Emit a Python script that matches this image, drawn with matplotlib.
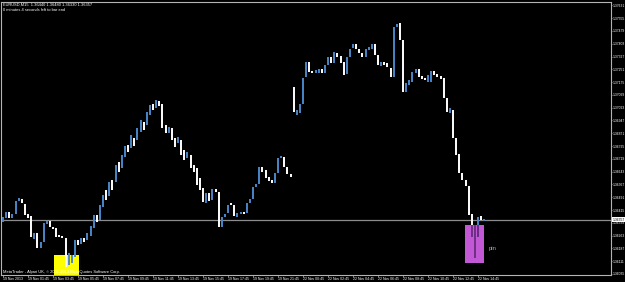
import matplotlib
matplotlib.use('Agg')
import matplotlib.pyplot as plt
from matplotlib.patches import Rectangle

plt.rcParams['font.family'] = ['Liberation Sans', 'DejaVu Sans']

symbol_info = "EURUSD,M15  1.36440 1.36480 1.36330 1.36357"
timer_info = "0 minutes 4 seconds left to bar end"
credits = "MetaTrader - Alpari UK, \u00a9 2001-2013 MetaQuotes Software Corp."
note_text = "pin"

bar_high = [
    1.36374, 1.36403, 1.36403, 1.36391, 1.36469, 1.36486, 1.36481, 1.36451, 1.36391, 1.36380,
    1.36279, 1.36279, 1.36225, 1.36338, 1.36350, 1.36350, 1.36314, 1.36308, 1.36267, 1.36261,
    1.36249, 1.36160, 1.36148, 1.36237, 1.36237, 1.36249, 1.36249, 1.36279, 1.36320, 1.36385,
    1.36385, 1.36445, 1.36504, 1.36534, 1.36581, 1.36593, 1.36682, 1.36700, 1.36742, 1.36795,
    1.36801, 1.36861, 1.36843, 1.36902, 1.36950, 1.36938, 1.36997, 1.37039, 1.37045, 1.37069,
    1.37063, 1.37045, 1.36920, 1.36908, 1.36902, 1.36843, 1.36849, 1.36831, 1.36772, 1.36760,
    1.36742, 1.36682, 1.36665, 1.36605, 1.36546, 1.36516, 1.36516, 1.36540, 1.36540, 1.36522,
    1.36374, 1.36391, 1.36445, 1.36457, 1.36445, 1.36397, 1.36403, 1.36403, 1.36457, 1.36481,
    1.36552, 1.36570, 1.36671, 1.36671, 1.36653, 1.36611, 1.36593, 1.36635, 1.36724, 1.36736,
    1.36730, 1.36671, 1.36629, 1.37146, 1.37009, 1.37045, 1.37199, 1.37294, 1.37294, 1.37241,
    1.37247, 1.37253, 1.37253, 1.37276, 1.37324, 1.37324, 1.37354, 1.37348, 1.37330, 1.37294,
    1.37324, 1.37372, 1.37401, 1.37401, 1.37372, 1.37348, 1.37372, 1.37383, 1.37401, 1.37401,
    1.37336, 1.37294, 1.37294, 1.37288, 1.37259, 1.37502, 1.37520, 1.37526, 1.37425, 1.37170,
    1.37187, 1.37235, 1.37253, 1.37253, 1.37211, 1.37199, 1.37217, 1.37241, 1.37241, 1.37223,
    1.37211, 1.37199, 1.37080, 1.37021, 1.37009, 1.36843, 1.36748, 1.36635, 1.36593, 1.36558,
    1.36391, 1.36326, 1.36374, 1.36380, 1.36362,
]
bar_low = [
    1.36344, 1.36368, 1.36368, 1.36368, 1.36391, 1.36469, 1.36457, 1.36385, 1.36368, 1.36255,
    1.36243, 1.36189, 1.36189, 1.36225, 1.36332, 1.36314, 1.36302, 1.36255, 1.36255, 1.36249,
    1.36077, 1.36088, 1.36100, 1.36136, 1.36207, 1.36213, 1.36225, 1.36237, 1.36261, 1.36308,
    1.36344, 1.36356, 1.36433, 1.36475, 1.36498, 1.36534, 1.36581, 1.36641, 1.36665, 1.36730,
    1.36760, 1.36783, 1.36795, 1.36831, 1.36878, 1.36890, 1.36920, 1.36979, 1.37009, 1.37021,
    1.37033, 1.36902, 1.36873, 1.36873, 1.36831, 1.36789, 1.36813, 1.36742, 1.36712, 1.36724,
    1.36665, 1.36641, 1.36564, 1.36534, 1.36463, 1.36457, 1.36469, 1.36475, 1.36522, 1.36314,
    1.36314, 1.36374, 1.36397, 1.36445, 1.36380, 1.36374, 1.36391, 1.36391, 1.36397, 1.36457,
    1.36481, 1.36552, 1.36570, 1.36641, 1.36605, 1.36587, 1.36576, 1.36576, 1.36635, 1.36724,
    1.36671, 1.36629, 1.36611, 1.36997, 1.36979, 1.36991, 1.37045, 1.37205, 1.37235, 1.37229,
    1.37229, 1.37229, 1.37229, 1.37229, 1.37276, 1.37288, 1.37288, 1.37324, 1.37288, 1.37217,
    1.37223, 1.37324, 1.37377, 1.37372, 1.37348, 1.37324, 1.37324, 1.37366, 1.37372, 1.37336,
    1.37276, 1.37271, 1.37276, 1.37265, 1.37205, 1.37205, 1.37502, 1.37425, 1.37116, 1.37116,
    1.37158, 1.37176, 1.37229, 1.37205, 1.37193, 1.37187, 1.37176, 1.37176, 1.37217, 1.37205,
    1.37193, 1.37080, 1.36997, 1.36991, 1.36843, 1.36742, 1.36635, 1.36593, 1.36558, 1.36385,
    1.36255, 1.36130, 1.36255, 1.36356, 1.36350,
]
bar_up = [
    1, 1, 0, 1, 1, 1, 0, 0, 0, 0,
    1, 0, 1, 1, 1, 0, 0, 0, 0, 0,
    0, 1, 1, 1, 0, 1, 0, 1, 1, 1,
    0, 1, 1, 0, 1, 0, 1, 0, 1, 1,
    0, 1, 0, 1, 1, 0, 1, 1, 0, 1,
    0, 0, 0, 1, 0, 0, 1, 0, 0, 1,
    0, 0, 0, 0, 0, 1, 0, 1, 0, 0,
    1, 1, 1, 0, 0, 1, 1, 0, 1, 1,
    1, 1, 1, 0, 0, 0, 0, 1, 1, 1,
    0, 0, 0, 0, 1, 1, 1, 1, 0, 0,
    1, 1, 0, 1, 1, 0, 1, 0, 0, 0,
    1, 1, 1, 0, 0, 0, 1, 1, 1, 0,
    0, 1, 0, 0, 0, 1, 1, 0, 0, 1,
    1, 1, 1, 0, 0, 0, 1, 1, 0, 0,
    0, 0, 0, 1, 0, 0, 0, 0, 0, 0,
    0, 0, 1, 0, 1,
]
last_price = 1.36357
last_price_label = "1.36357"

price_ticks = [1.36035, 1.36111, 1.36187, 1.36263, 1.36339, 1.36415, 1.36491, 1.36567,
               1.36643, 1.36719, 1.36795, 1.36871, 1.36947, 1.37023, 1.37099, 1.37175,
               1.37251, 1.37327, 1.37403, 1.37479, 1.37555, 1.37631]
price_tick_labels = ["%.5f" % p for p in price_ticks]

time_tick_bars = [0, 8, 16, 24, 32, 40, 48, 56, 64, 72, 80, 88, 96, 104, 112, 120, 128, 136, 144, 152]
time_labels = ["19 Nov 2013", "19 Nov 01:45", "19 Nov 03:45", "19 Nov 05:45", "19 Nov 07:45",
               "19 Nov 09:45", "19 Nov 11:45", "19 Nov 13:45", "19 Nov 15:45", "19 Nov 17:45",
               "19 Nov 19:45", "19 Nov 21:45", "22 Nov 00:45", "22 Nov 02:45", "22 Nov 04:45",
               "22 Nov 06:45", "22 Nov 08:45", "22 Nov 10:45", "22 Nov 12:45", "22 Nov 14:45"]

# highlighted zones (bar index range, price range)
yellow_zone = (16.3, 24.3, 1.36000, 1.36148)
pin_zone = (147.8, 154.0, 1.36100, 1.36326)

BLUE = '#4a86c8'
WHITE = '#ffffff'
GRID = '#8c8c8c'

W, H = 625, 282
fig = plt.figure(figsize=(W / 100, H / 100), dpi=100, facecolor='black')
L, R, T, B = 1, 611, 2, 275
ax = fig.add_axes([L / W, (H - B) / H, (R - L) / W, (B - T) / H])
ax.set_facecolor('black')

xs = list(range(len(bar_high)))
colors = [BLUE if u else WHITE for u in bar_up]

# zones (drawn behind bars)
yz = Rectangle((yellow_zone[0], yellow_zone[2]), yellow_zone[1] - yellow_zone[0],
               yellow_zone[3] - yellow_zone[2], facecolor='#ffff00', edgecolor='none', zorder=1)
ax.add_patch(yz)
pz = Rectangle((pin_zone[0], pin_zone[2]), pin_zone[1] - pin_zone[0],
               pin_zone[3] - pin_zone[2], facecolor='#c358d6', edgecolor='none', zorder=1)
ax.add_patch(pz)

ax.axhline(last_price, color=GRID, lw=0.9, zorder=2)

ax.vlines(xs, bar_low, bar_high, colors=colors, linewidth=1.4, zorder=3)
inner = ax.vlines(xs, bar_low, bar_high, colors='#6a2a82', linewidth=1.4, zorder=4)
inner.set_clip_path(pz)

ax.text(155.5, 1.36189, note_text, color='#a8a8a8', fontsize=4.2, va='center', ha='left', zorder=5)

ax.set_xlim(-0.64, (R - 3) / 3.125)
ax.set_ylim(1.36029, 1.37651)

for s in ax.spines.values():
    s.set_color('#b4b4b4')
    s.set_linewidth(0.8)

ax.yaxis.tick_right()
ax.set_yticks(price_ticks)
ax.set_yticklabels(price_tick_labels)
ax.tick_params(axis='y', colors='#b4b4b4', labelcolor='white', labelsize=2.4, length=1.0,
               width=0.5, pad=0.3, direction='out')
ax.set_xticks(time_tick_bars)
ax.set_xticklabels(time_labels, ha='left')
ax.tick_params(axis='x', colors='#b4b4b4', labelcolor='white', labelsize=2.5, length=1.5,
               width=0.5, pad=0.3, direction='out')

# current price label
ax.text(1.0022, last_price, last_price_label, transform=ax.get_yaxis_transform(),
        fontsize=2.4, color='black', va='center', ha='left', clip_on=False,
        bbox=dict(boxstyle='square,pad=0.15', facecolor='white', edgecolor='none'), zorder=6)

fig.text(3 / W, 1 - 5 / H, symbol_info, color='white', fontsize=2.9, va='center', ha='left')
fig.text(3 / W, 1 - 10 / H, timer_info, color='white', fontsize=2.9, va='center', ha='left')
fig.text(3 / W, 1 - 272 / H, credits, color='white', fontsize=2.9, va='center', ha='left')

fig.savefig('out.png', dpi=100, facecolor='black')
